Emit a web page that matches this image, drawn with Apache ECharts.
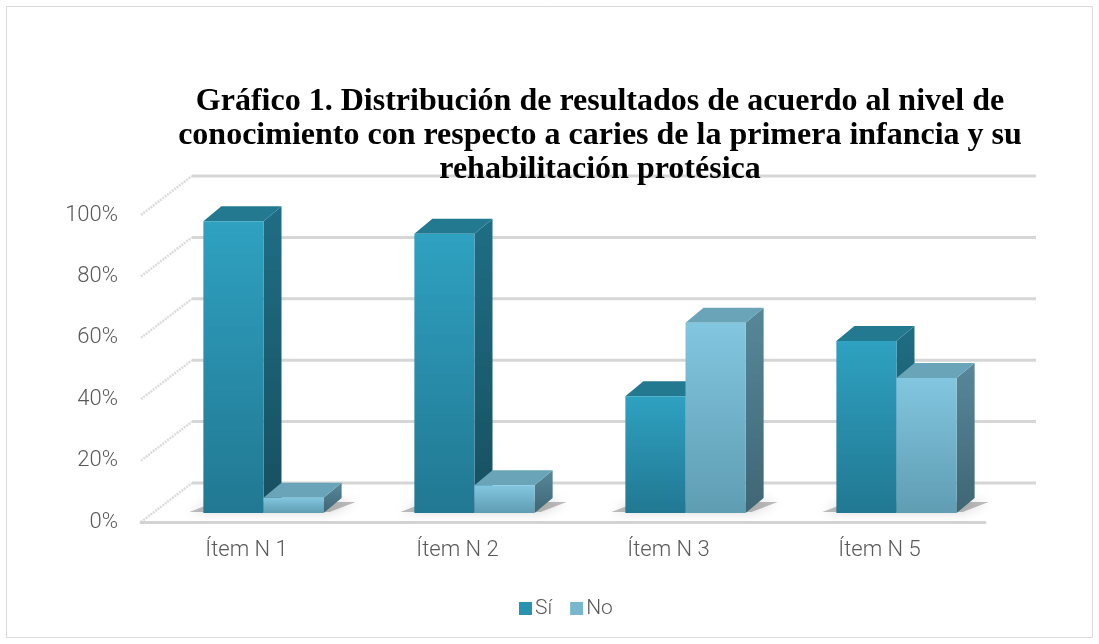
<!DOCTYPE html>
<html>
<head>
<meta charset="utf-8">
<script src="https://cdn.jsdelivr.net/npm/echarts@6/dist/echarts.min.js"></script>
<style>
  html, body { margin: 0; padding: 0; background: #fff; }
  #chart { width: 1099px; height: 644px; }
</style>
</head>
<body>
<div id="chart"></div>
<script>
var categories = ['Ítem N 1', 'Ítem N 2', 'Ítem N 3', 'Ítem N 5'];
var siValues = [95, 91, 38, 56];
var noValues = [5, 9, 62, 44];
var yTicks = [0, 20, 40, 60, 80, 100];

// desplazamientos de la "profundidad" 3D (px)
var wallDepth = { dx: 51, dy: -39 };
var barFront = { dx: 17, dy: -9 };
var barDepth = { dx: 18, dy: -15 };

var labelFont = { fontFamily: 'Roboto', fontWeight: 300, color: '#595959' };

function vGrad(top, bottom) {
	return new echarts.graphic.LinearGradient(0, 0, 0, 1, [
		{ offset: 0, color: top },
		{ offset: 1, color: bottom }
	]);
}

var palette = [
	{ front: ['#2fa1c1', '#217892'], side: ['#1f6e85', '#174f60'], top: '#23798f', legend: '#2a93b1' },
	{ front: ['#82c6df', '#5f9db3'], side: ['#56889a', '#3f6674'], top: '#6aa4b8', legend: '#78b7cc' }
];

function barRender(s) {
	return function (params, api) {
		var i = api.value(0), v = api.value(1);
		var base = api.coord([i, 0]);
		var top = api.coord([i, v]);
		var w = api.size([1, 0])[0] * 0.285;
		var x0 = base[0] + barFront.dx + (s === 0 ? -w : 0);
		var y0 = base[1] + barFront.dy;
		var y1 = top[1] + barFront.dy;
		var c = palette[s];
		return {
			type: 'group',
			children: [{
				type: 'polygon',
				shape: { points: [[x0 + w, y1], [x0 + w + barDepth.dx, y1 + barDepth.dy], [x0 + w + barDepth.dx, y0 + barDepth.dy], [x0 + w, y0]] },
				style: { fill: vGrad(c.side[0], c.side[1]) }
			}, {
				type: 'polygon',
				shape: { points: [[x0, y1], [x0 + barDepth.dx, y1 + barDepth.dy], [x0 + w + barDepth.dx, y1 + barDepth.dy], [x0 + w, y1]] },
				style: { fill: c.top }
			}, {
				type: 'rect',
				shape: { x: x0, y: y1, width: w, height: y0 - y1 },
				style: { fill: vGrad(c.front[0], c.front[1]) }
			}]
		};
	};
}

var chart = echarts.init(document.getElementById('chart'));
chart.setOption({
	animation: false,
	title: {
		text: 'Gráfico 1. Distribución de resultados de acuerdo al nivel de\nconocimiento con respecto a caries de la primera infancia y su\nrehabilitación protésica',
		left: 595,
		top: 80,
		textAlign: 'center',
		textStyle: {
			fontFamily: 'Liberation Serif',
			fontWeight: 'bold',
			fontSize: 32,
			lineHeight: 34,
			color: '#000'
		}
	},
	legend: {
		data: ['Sí', 'No'],
		bottom: 20,
		left: 514,
		icon: 'rect',
		itemWidth: 13,
		itemHeight: 13,
		itemGap: 18,
		textStyle: Object.assign({ fontSize: 21, padding: [0, 0, 0, -2] }, labelFont)
	},
	graphic: [{
		type: 'rect',
		shape: { x: 6.5, y: 6.5, width: 1086, height: 631 },
		style: { fill: 'none', stroke: '#d9d9d9', lineWidth: 1 },
		silent: true
	}],
	grid: { left: 141, right: 114, top: 215, bottom: 122 },
	xAxis: {
		type: 'category',
		data: categories,
		axisTick: { show: false },
		axisLine: { show: true, lineStyle: { color: '#d3d3d3', width: 3 } },
		axisLabel: Object.assign({ fontSize: 22, margin: 17 }, labelFont)
	},
	yAxis: {
		type: 'value',
		min: 0,
		max: 100,
		interval: 20,
		axisLine: { show: false },
		axisTick: { show: false },
		splitLine: { show: false },
		axisLabel: Object.assign({ fontSize: 22, margin: 23, formatter: '{value}%' }, labelFont)
	},
	series: [{
		// paredes: líneas laterales y del fondo
		type: 'custom',
		silent: true,
		z: 0,
		data: yTicks.map(function (t) { return [0, t]; }),
		renderItem: function (params, api) {
			var cs = params.coordSys;
			var y = api.coord([0, api.value(1)])[1];
			var bx = cs.x + wallDepth.dx, by = y + wallDepth.dy;
			return {
				type: 'group',
				children: [{
					type: 'line',
					shape: { x1: cs.x, y1: y, x2: bx, y2: by },
					style: { stroke: '#dcdcdc', lineWidth: 2.5, lineDash: [2, 1] }
				}, {
					type: 'line',
					shape: { x1: bx, y1: by, x2: cs.x + cs.width + wallDepth.dx, y2: by },
					style: { stroke: '#d6d6d6', lineWidth: 3 }
				}]
			};
		}
	}, {
		// sombras en el piso
		type: 'custom',
		silent: true,
		z: 1,
		data: categories.map(function (c, i) { return [i, 0]; }),
		renderItem: function (params, api) {
			var i = api.value(0);
			var base = api.coord([i, 0]);
			var w = api.size([1, 0])[0] * 0.285;
			var x0 = base[0] + barFront.dx - w;
			var y0 = base[1] + barFront.dy;
			return {
				type: 'polygon',
				shape: { points: [[x0 - 14, y0 - 1], [x0 + 2 * w + 6, y0 - 1], [x0 + 2 * w + barDepth.dx + 14, y0 + barDepth.dy + 4], [x0 + barDepth.dx - 6, y0 + barDepth.dy + 4]] },
				style: { fill: 'rgba(40,40,40,0.3)', shadowBlur: 12, shadowColor: 'rgba(0,0,0,0.6)' }
			};
		}
	}, {
		name: 'Sí',
		type: 'custom',
		z: 2,
		itemStyle: { color: palette[0].legend },
		data: siValues.map(function (v, i) { return [i, v]; }),
		renderItem: barRender(0)
	}, {
		name: 'No',
		type: 'custom',
		z: 2,
		itemStyle: { color: palette[1].legend },
		data: noValues.map(function (v, i) { return [i, v]; }),
		renderItem: barRender(1)
	}]
});
</script>
</body>
</html>
